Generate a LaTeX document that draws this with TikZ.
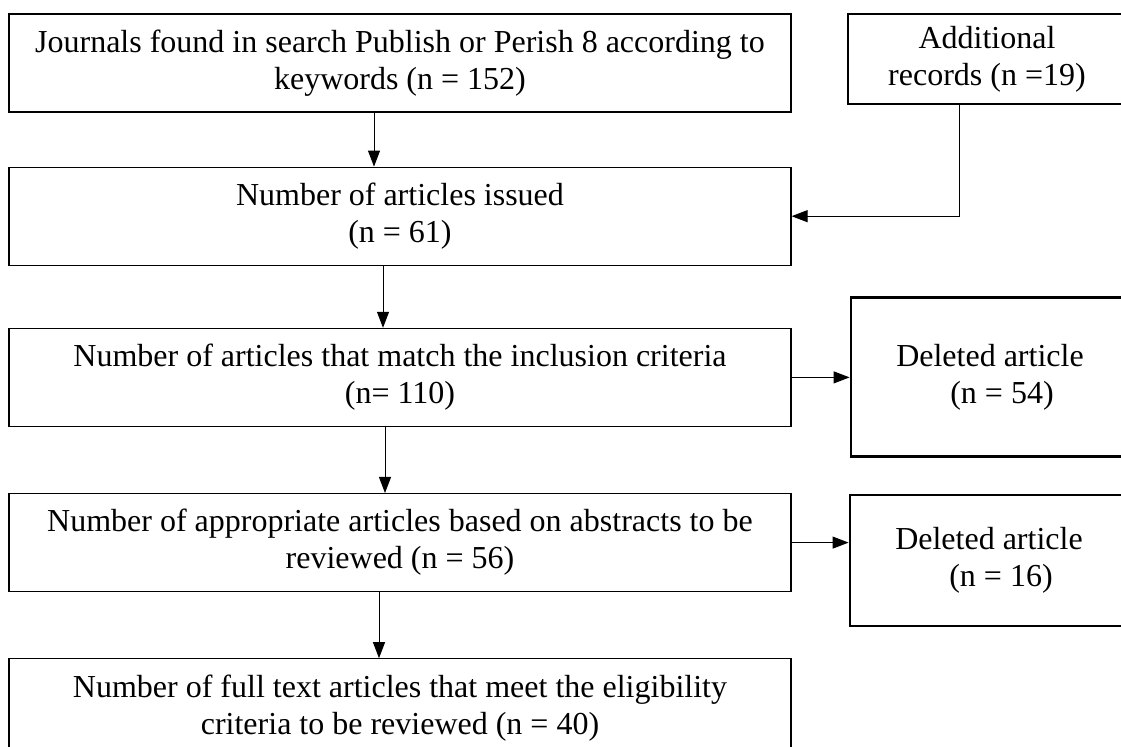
\documentclass[tikz,border=0pt]{standalone}
\usepackage{fontspec}
\setmainfont{Liberation Serif}
\usepackage{tikz}
\usetikzlibrary{arrows.meta, positioning}
\tikzset{
  stage/.style={rectangle, draw=black, line width=0.6pt, text width=385pt, align=flush center,
                minimum width=391pt, minimum height=49pt, inner sep=0pt,
                font=\fontsize{16pt}{18.5pt}\selectfont},
  side/.style={rectangle, draw=black, line width=1.4pt, text width=130pt, align=flush center,
               minimum width=139pt, inner sep=0pt, font=\fontsize{16pt}{18.5pt}\selectfont},
  arrow/.style={-{Triangle[length=8pt, width=6pt]}, line width=0.5pt},
}
\begin{document}
\begin{tikzpicture}
  \useasboundingbox (0,0) rectangle (560.5pt,-373.5pt);
  \node[stage] at (200pt,-31.5pt) (found) {Journals found in search Publish or Perish 8 according to\\keywords (n = 152)};
  \node[stage, below=27pt of found]  (issued) {Number of articles issued\\(n = 61)};
  \node[stage, below=31pt of issued] (incl)   {Number of articles that match the inclusion criteria\\(n= 110)};
  \node[stage, below=33pt of incl]   (abstr)  {Number of appropriate articles based on abstracts to be\\reviewed (n = 56)};
  \node[stage, below=33pt of abstr]  (full)   {Number of full text articles that meet the eligibility\\criteria to be reviewed (n = 40)};
  \node[side, minimum height=45pt, right=27.5pt of found, yshift=2pt] (addl) {Additional\\records (n =19)};
  \node[side, minimum height=79.5pt, right=29pt of incl]  (del1) {Deleted article\\\hspace*{12pt}(n = 54)};
  \node[side, minimum height=65.5pt, right=28.5pt of abstr, yshift=-9pt] (del2) {Deleted article\\\hspace*{12pt}(n = 16)};

  \draw[arrow] ([xshift=-13pt]found.south) -- ([xshift=-13pt]issued.north);
  \draw[arrow] ([xshift=-8.5pt]issued.south) -- ([xshift=-8.5pt]incl.north);
  \draw[arrow] ([xshift=-7.5pt]incl.south) -- ([xshift=-7.5pt]abstr.north);
  \draw[arrow] ([xshift=-10.5pt]abstr.south) -- ([xshift=-10.5pt]full.north);
  \draw[arrow] ([xshift=-14pt]addl.south) |- (issued.east);
  \draw[arrow] (incl.east) -- (incl.east -| del1.west);
  \draw[arrow] (abstr.east) -- (abstr.east -| del2.west);
\end{tikzpicture}
\end{document}
